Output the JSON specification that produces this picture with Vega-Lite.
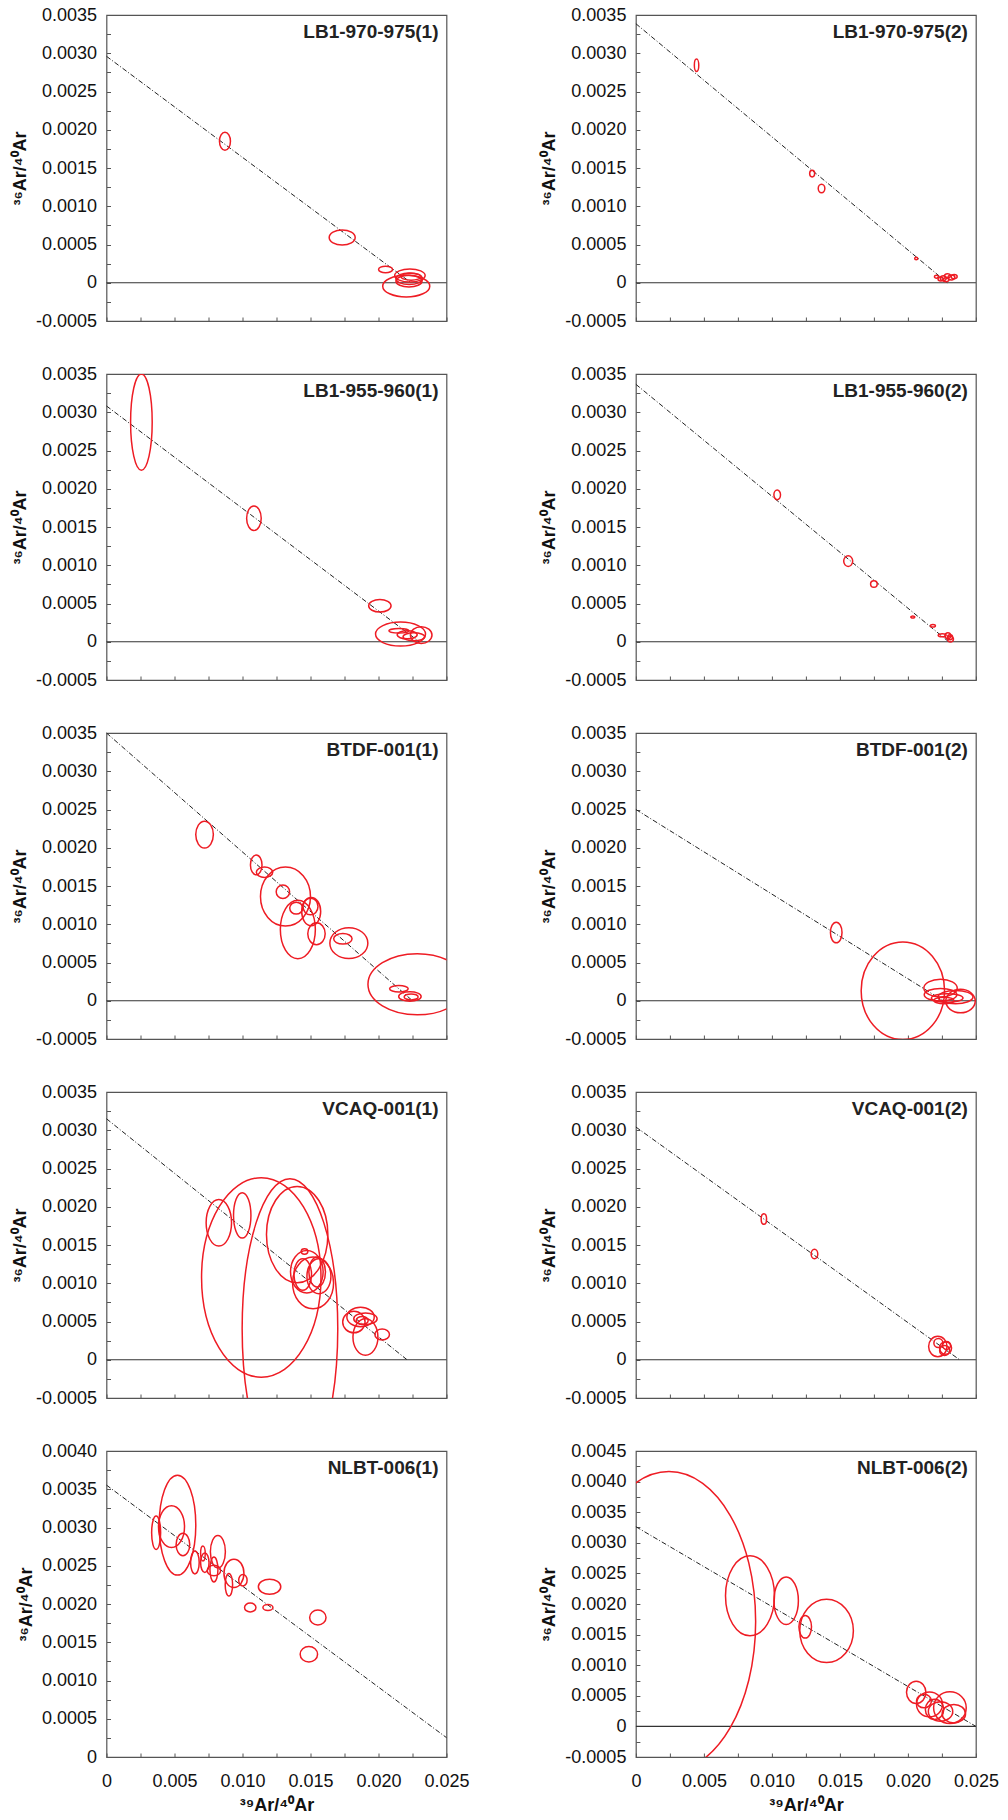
{
  "$schema": "https://vega.github.io/schema/vega-lite/v6.json",
  "background": "white",
  "padding": {"left": 10.5, "top": 5, "right": 5, "bottom": 5},
  "config": {
    "font": "Liberation Sans",
    "view": {"stroke": "#555555", "strokeWidth": 1.2},
    "axis": {"domain": false, "grid": false, "tickColor": "#555555", "tickSize": -4, "tickWidth": 1, "labelFont": "Liberation Sans", "labelFontSize": 18, "labelColor": "#111111", "titleFont": "Liberation Sans", "titleFontSize": 18, "titleFontWeight": "bold", "titleColor": "#111111", "labelOverlap": false, "labelFlush": false},
    "axisY": {"labelPadding": 14, "titlePadding": 6},
    "axisX": {"labelPadding": 19, "titlePadding": 6},
    "title": {"font": "Liberation Sans", "fontSize": 19, "fontWeight": "bold", "color": "#222222", "anchor": "end", "orient": "top", "frame": "group", "offset": -35.5, "baseline": "alphabetic", "dx": -8}
  },
  "datasets": {
    "zero": [{"x": 0, "x2": 0.025, "y": 0}],
    "lines": [
      {"p": "P1", "x": 0, "y": 0.00296}, {"p": "P1", "x": 0.0224, "y": 0},
      {"p": "P2", "x": 0, "y": 0.003386}, {"p": "P2", "x": 0.0229, "y": 0},
      {"p": "P3", "x": 0, "y": 0.003082}, {"p": "P3", "x": 0.0230, "y": 0},
      {"p": "P4", "x": 0, "y": 0.003365}, {"p": "P4", "x": 0.0230, "y": 0},
      {"p": "P5", "x": 0, "y": 0.0035}, {"p": "P5", "x": 0.0225, "y": 0},
      {"p": "P6", "x": 0, "y": 0.0025}, {"p": "P6", "x": 0.0226, "y": 0},
      {"p": "P7", "x": 0, "y": 0.00315}, {"p": "P7", "x": 0.0221, "y": 0},
      {"p": "P8", "x": 0, "y": 0.003042}, {"p": "P8", "x": 0.0238, "y": 0},
      {"p": "P9", "x": 0, "y": 0.003554}, {"p": "P9", "x": 0.025, "y": 0.000253},
      {"p": "P10", "x": 0, "y": 0.003263}, {"p": "P10", "x": 0.025, "y": 0}
    ],
    "ell": [
      {"p": "P1", "id": "a1", "x": 0.00871, "y": 0.00185, "sx": 0.000404, "sy": 0.000117},
      {"p": "P1", "id": "a2", "x": 0.01733, "y": 0.000592, "sx": 0.000956, "sy": 0.0000979},
      {"p": "P1", "id": "a3", "x": 0.02052, "y": 0.000174, "sx": 0.000515, "sy": 0.0000431},
      {"p": "P1", "id": "a4", "x": 0.02231, "y": 0.000095, "sx": 0.00112, "sy": 0.0000848},
      {"p": "P1", "id": "a5", "x": 0.02226, "y": 0.000052, "sx": 0.000978, "sy": 0.0000757},
      {"p": "P1", "id": "a6", "x": 0.02224, "y": 0.000021, "sx": 0.000956, "sy": 0.0000757},
      {"p": "P1", "id": "a7", "x": 0.02204, "y": -0.0000444, "sx": 0.00173, "sy": 0.00014},
      {"p": "P1", "id": "a8", "x": 0.0224, "y": 0.00008, "sx": 0.000735, "sy": 0.0000457},
      {"p": "P2", "id": "b1", "x": 0.00446, "y": 0.002842, "sx": 0.000162, "sy": 0.0000809},
      {"p": "P2", "id": "b2", "x": 0.01296, "y": 0.001427, "sx": 0.000184, "sy": 0.0000431},
      {"p": "P2", "id": "b3", "x": 0.01365, "y": 0.001232, "sx": 0.000243, "sy": 0.0000548},
      {"p": "P2", "id": "b4", "x": 0.02061, "y": 0.000317, "sx": 0.00011, "sy": 0.000017},
      {"p": "P2", "id": "b5", "x": 0.0221, "y": 0.00008, "sx": 0.000147, "sy": 0.0000196},
      {"p": "P2", "id": "b6", "x": 0.0226, "y": 0.00006, "sx": 0.000221, "sy": 0.0000326},
      {"p": "P2", "id": "b7", "x": 0.0229, "y": 0.00009, "sx": 0.000221, "sy": 0.0000261},
      {"p": "P2", "id": "b8", "x": 0.0232, "y": 0.00007, "sx": 0.000257, "sy": 0.0000326},
      {"p": "P2", "id": "b9", "x": 0.0234, "y": 0.00008, "sx": 0.000221, "sy": 0.0000261},
      {"p": "P2", "id": "b10", "x": 0.0228, "y": 0.00004, "sx": 0.000221, "sy": 0.0000261},
      {"p": "P2", "id": "b11", "x": 0.0224, "y": 0.00005, "sx": 0.000184, "sy": 0.0000261},
      {"p": "P3", "id": "c1", "x": 0.002566, "y": 0.002872, "sx": 0.000794, "sy": 0.000629},
      {"p": "P3", "id": "c2", "x": 0.01084, "y": 0.001615, "sx": 0.000537, "sy": 0.000161},
      {"p": "P3", "id": "c3", "x": 0.0201, "y": 0.00047, "sx": 0.000824, "sy": 0.0000822},
      {"p": "P3", "id": "c4", "x": 0.02162, "y": 0.0001, "sx": 0.001838, "sy": 0.000157},
      {"p": "P3", "id": "c5", "x": 0.02314, "y": 0.000087, "sx": 0.000794, "sy": 0.000108},
      {"p": "P3", "id": "c6", "x": 0.0215, "y": 0.000143, "sx": 0.000735, "sy": 0.00003},
      {"p": "P3", "id": "c7", "x": 0.02211, "y": 0.00009, "sx": 0.000735, "sy": 0.0000522},
      {"p": "P3", "id": "c8", "x": 0.0226, "y": 0.000065, "sx": 0.000794, "sy": 0.0000522},
      {"p": "P4", "id": "d1", "x": 0.01039, "y": 0.00192, "sx": 0.000243, "sy": 0.0000627},
      {"p": "P4", "id": "d2", "x": 0.01561, "y": 0.001054, "sx": 0.000331, "sy": 0.0000692},
      {"p": "P4", "id": "d3", "x": 0.0175, "y": 0.000754, "sx": 0.000243, "sy": 0.0000431},
      {"p": "P4", "id": "d4", "x": 0.02036, "y": 0.000323, "sx": 0.000147, "sy": 0.0000131},
      {"p": "P4", "id": "d5", "x": 0.02184, "y": 0.000209, "sx": 0.000184, "sy": 0.000017},
      {"p": "P4", "id": "d6", "x": 0.02252, "y": 0.0000836, "sx": 0.000294, "sy": 0.0000196},
      {"p": "P4", "id": "d7", "x": 0.02294, "y": 0.0000784, "sx": 0.000221, "sy": 0.0000392},
      {"p": "P4", "id": "d8", "x": 0.02313, "y": 0.0000353, "sx": 0.000221, "sy": 0.0000392},
      {"p": "P4", "id": "d9", "x": 0.0231, "y": 0.00006, "sx": 0.000184, "sy": 0.0000326},
      {"p": "P5", "id": "e1", "x": 0.00721, "y": 0.002172, "sx": 0.000647, "sy": 0.000176},
      {"p": "P5", "id": "e2", "x": 0.01101, "y": 0.001776, "sx": 0.000426, "sy": 0.000131},
      {"p": "P5", "id": "e3", "x": 0.01162, "y": 0.00168, "sx": 0.000603, "sy": 0.0000679},
      {"p": "P5", "id": "e4", "x": 0.01316, "y": 0.001362, "sx": 0.001838, "sy": 0.000385},
      {"p": "P5", "id": "e5", "x": 0.01297, "y": 0.001424, "sx": 0.000493, "sy": 0.0000875},
      {"p": "P5", "id": "e6", "x": 0.01395, "y": 0.001211, "sx": 0.000478, "sy": 0.0000783},
      {"p": "P5", "id": "e7", "x": 0.01505, "y": 0.001166, "sx": 0.000699, "sy": 0.000185},
      {"p": "P5", "id": "e8", "x": 0.0150, "y": 0.001232, "sx": 0.000551, "sy": 0.000108},
      {"p": "P5", "id": "e9", "x": 0.01407, "y": 0.000931, "sx": 0.001287, "sy": 0.000381},
      {"p": "P5", "id": "e10", "x": 0.01544, "y": 0.000875, "sx": 0.00064, "sy": 0.000144},
      {"p": "P5", "id": "e11", "x": 0.01782, "y": 0.000753, "sx": 0.001397, "sy": 0.0002},
      {"p": "P5", "id": "e12", "x": 0.01738, "y": 0.00081, "sx": 0.000676, "sy": 0.0000692},
      {"p": "P5", "id": "e13", "x": 0.02285, "y": 0.000215, "sx": 0.003625, "sy": 0.000398},
      {"p": "P5", "id": "e14", "x": 0.0215, "y": 0.000157, "sx": 0.000684, "sy": 0.0000431},
      {"p": "P5", "id": "e15", "x": 0.02231, "y": 0.0000565, "sx": 0.000824, "sy": 0.0000614},
      {"p": "P5", "id": "e16", "x": 0.0224, "y": 0.00005, "sx": 0.000515, "sy": 0.0000392},
      {"p": "P6", "id": "f1", "x": 0.01473, "y": 0.000892, "sx": 0.000426, "sy": 0.000134},
      {"p": "P6", "id": "f2", "x": 0.01963, "y": 0.00013, "sx": 0.003066, "sy": 0.000636},
      {"p": "P6", "id": "f3", "x": 0.0224, "y": 0.000166, "sx": 0.001228, "sy": 0.000115},
      {"p": "P6", "id": "f4", "x": 0.02387, "y": -0.000004, "sx": 0.001081, "sy": 0.000153},
      {"p": "P6", "id": "f5", "x": 0.0224, "y": 0.000078, "sx": 0.001199, "sy": 0.0000822},
      {"p": "P6", "id": "f6", "x": 0.02289, "y": 0.000035, "sx": 0.001162, "sy": 0.0000548},
      {"p": "P6", "id": "f7", "x": 0.0235, "y": 0.000048, "sx": 0.001287, "sy": 0.0000875},
      {"p": "P6", "id": "f8", "x": 0.02265, "y": 0.000004, "sx": 0.000735, "sy": 0.0000431},
      {"p": "P7", "id": "g1", "x": 0.01138, "y": 0.001076, "sx": 0.00439, "sy": 0.001303},
      {"p": "P7", "id": "g2", "x": 0.01349, "y": 0.000405, "sx": 0.003515, "sy": 0.001961},
      {"p": "P7", "id": "g3", "x": 0.01402, "y": 0.001636, "sx": 0.002257, "sy": 0.00063},
      {"p": "P7", "id": "g4", "x": 0.00826, "y": 0.00179, "sx": 0.000934, "sy": 0.000305},
      {"p": "P7", "id": "g5", "x": 0.00998, "y": 0.001887, "sx": 0.00064, "sy": 0.000297},
      {"p": "P7", "id": "g6", "x": 0.01456, "y": 0.001416, "sx": 0.000243, "sy": 0.0000353},
      {"p": "P7", "id": "g7", "x": 0.01519, "y": 0.001004, "sx": 0.001507, "sy": 0.000337},
      {"p": "P7", "id": "g8", "x": 0.01473, "y": 0.00115, "sx": 0.001199, "sy": 0.000277},
      {"p": "P7", "id": "g9", "x": 0.01443, "y": 0.001114, "sx": 0.000647, "sy": 0.000207},
      {"p": "P7", "id": "g10", "x": 0.01562, "y": 0.001092, "sx": 0.000882, "sy": 0.000229},
      {"p": "P7", "id": "g11", "x": 0.01549, "y": 0.001146, "sx": 0.00061, "sy": 0.000196},
      {"p": "P7", "id": "g12", "x": 0.01868, "y": 0.000558, "sx": 0.001007, "sy": 0.000127},
      {"p": "P7", "id": "g13", "x": 0.01819, "y": 0.000493, "sx": 0.000824, "sy": 0.000141},
      {"p": "P7", "id": "g14", "x": 0.01904, "y": 0.000536, "sx": 0.00086, "sy": 0.0000758},
      {"p": "P7", "id": "g15", "x": 0.01904, "y": 0.000297, "sx": 0.000919, "sy": 0.000239},
      {"p": "P7", "id": "g16", "x": 0.0188, "y": 0.000514, "sx": 0.000441, "sy": 0.0000523},
      {"p": "P7", "id": "g17", "x": 0.02027, "y": 0.000331, "sx": 0.000537, "sy": 0.0000719},
      {"p": "P8", "id": "h1", "x": 0.00941, "y": 0.001839, "sx": 0.000199, "sy": 0.0000693},
      {"p": "P8", "id": "h2", "x": 0.01313, "y": 0.001382, "sx": 0.000243, "sy": 0.0000614},
      {"p": "P8", "id": "h3", "x": 0.0222, "y": 0.000174, "sx": 0.000676, "sy": 0.000133},
      {"p": "P8", "id": "h4", "x": 0.02224, "y": 0.000218, "sx": 0.000331, "sy": 0.0000588},
      {"p": "P8", "id": "h5", "x": 0.02277, "y": 0.000153, "sx": 0.000441, "sy": 0.0000824},
      {"p": "P8", "id": "h6", "x": 0.0227, "y": 0.000122, "sx": 0.000368, "sy": 0.0000654},
      {"p": "P8", "id": "h7", "x": 0.02284, "y": 0.000187, "sx": 0.000294, "sy": 0.0000523},
      {"p": "P9", "id": "i1", "x": 0.00522, "y": 0.003031, "sx": 0.001346, "sy": 0.000654},
      {"p": "P9", "id": "i2", "x": 0.00478, "y": 0.003011, "sx": 0.000956, "sy": 0.000272},
      {"p": "P9", "id": "i3", "x": 0.00365, "y": 0.002931, "sx": 0.000331, "sy": 0.000219},
      {"p": "P9", "id": "i4", "x": 0.00562, "y": 0.002778, "sx": 0.0005, "sy": 0.000147},
      {"p": "P9", "id": "i5", "x": 0.0065, "y": 0.002543, "sx": 0.000316, "sy": 0.00015},
      {"p": "P9", "id": "i6", "x": 0.00709, "y": 0.00266, "sx": 0.000169, "sy": 0.0000981},
      {"p": "P9", "id": "i7", "x": 0.00723, "y": 0.002539, "sx": 0.000309, "sy": 0.000127},
      {"p": "P9", "id": "i8", "x": 0.00819, "y": 0.002683, "sx": 0.000551, "sy": 0.000213},
      {"p": "P9", "id": "i9", "x": 0.0079, "y": 0.002451, "sx": 0.000294, "sy": 0.000164},
      {"p": "P9", "id": "i10", "x": 0.0079, "y": 0.002438, "sx": 0.000493, "sy": 0.0000694},
      {"p": "P9", "id": "i11", "x": 0.00937, "y": 0.002401, "sx": 0.000735, "sy": 0.000186},
      {"p": "P9", "id": "i12", "x": 0.009, "y": 0.002251, "sx": 0.000272, "sy": 0.000148},
      {"p": "P9", "id": "i13", "x": 0.01003, "y": 0.002311, "sx": 0.000309, "sy": 0.0000746},
      {"p": "P9", "id": "i14", "x": 0.01199, "y": 0.002225, "sx": 0.000824, "sy": 0.0000981},
      {"p": "P9", "id": "i15", "x": 0.01057, "y": 0.001954, "sx": 0.000419, "sy": 0.0000589},
      {"p": "P9", "id": "i16", "x": 0.01187, "y": 0.001954, "sx": 0.000368, "sy": 0.0000393},
      {"p": "P9", "id": "i17", "x": 0.01554, "y": 0.001823, "sx": 0.000603, "sy": 0.0000981},
      {"p": "P9", "id": "i18", "x": 0.01488, "y": 0.001343, "sx": 0.00064, "sy": 0.000102},
      {"p": "P10", "id": "j1", "x": 0.00243, "y": 0.001713, "sx": 0.006375, "sy": 0.002459},
      {"p": "P10", "id": "j2", "x": 0.00839, "y": 0.002134, "sx": 0.001801, "sy": 0.000655},
      {"p": "P10", "id": "j3", "x": 0.01105, "y": 0.002054, "sx": 0.000897, "sy": 0.000389},
      {"p": "P10", "id": "j4", "x": 0.01402, "y": 0.001561, "sx": 0.001971, "sy": 0.000519},
      {"p": "P10", "id": "j5", "x": 0.01245, "y": 0.001627, "sx": 0.000463, "sy": 0.000185},
      {"p": "P10", "id": "j6", "x": 0.02061, "y": 0.000557, "sx": 0.000713, "sy": 0.000183},
      {"p": "P10", "id": "j7", "x": 0.02159, "y": 0.00036, "sx": 0.000956, "sy": 0.000205},
      {"p": "P10", "id": "j8", "x": 0.02309, "y": 0.000306, "sx": 0.001199, "sy": 0.000259},
      {"p": "P10", "id": "j9", "x": 0.02196, "y": 0.000278, "sx": 0.000676, "sy": 0.000164},
      {"p": "P10", "id": "j10", "x": 0.0224, "y": 0.000245, "sx": 0.000897, "sy": 0.000159},
      {"p": "P10", "id": "j11", "x": 0.02338, "y": 0.000208, "sx": 0.00086, "sy": 0.000151},
      {"p": "P10", "id": "j12", "x": 0.02118, "y": 0.000415, "sx": 0.000551, "sy": 0.000111}
    ]
  },
  "columns": 2,
  "spacing": {"row": 53, "column": 189.4},
  "bounds": "flush",
  "resolve": {"scale": {"shape": "independent", "x": "independent", "y": "independent"}},
  "concat": [
    {
      "title": {"text": "LB1-970-975(1)"},
      "width": 340, "height": 306,
      "encoding": {
        "x": {"field": "x", "type": "quantitative", "scale": {"domain": [0, 0.025], "nice": false, "zero": false}, "axis": {"values": [0, 0.0025, 0.005, 0.0075, 0.01, 0.0125, 0.015, 0.0175, 0.02, 0.0225, 0.025], "labels": false, "title": null}},
        "y": {"field": "y", "type": "quantitative", "scale": {"domain": [-0.0005, 0.0035], "nice": false, "zero": false}, "axis": {"values": [-0.0005, -0.00025, 0, 0.00025, 0.0005, 0.00075, 0.001, 0.00125, 0.0015, 0.00175, 0.002, 0.00225, 0.0025, 0.00275, 0.003, 0.00325, 0.0035], "labelExpr": "round(datum.value*4000)%2==0 ? (datum.value==0 ? '0' : (datum.value<0 ? '-' : '') + format(abs(datum.value), '.4f')) : ''", "title": "³⁶Ar/⁴⁰Ar"}}
      },
      "layer": [
        {"data": {"name": "lines"}, "transform": [{"filter": "datum.p=='P1'"}], "mark": {"type": "line", "stroke": "#222222", "strokeWidth": 1, "strokeDash": [5, 2, 1, 2]}},
        {"data": {"name": "zero"}, "mark": {"type": "rule", "stroke": "#333333", "strokeWidth": 1.2}, "encoding": {"x2": {"field": "x2"}}},
        {"data": {"name": "ell"}, "transform": [{"filter": "datum.p=='P1'"}], "mark": {"type": "point", "filled": false, "stroke": "#ee1c24", "strokeWidth": 1.5, "opacity": 1, "clip": true},
         "encoding": {
           "size": {"field": "sx", "type": "quantitative", "scale": {"type": "pow", "exponent": 2, "domain": [0, 0.01], "range": [0, 73984]}, "legend": null},
           "shape": {"field": "id", "type": "nominal", "legend": null, "scale": {"domain": ["a1","a2","a3","a4","a5","a6","a7","a8"], "range": ["M-1,0A1,1.64 0 1,0 1,0A1,1.64 0 1,0 -1,0Z","M-1,0A1,0.58 0 1,0 1,0A1,0.58 0 1,0 -1,0Z","M-1,0A1,0.47 0 1,0 1,0A1,0.47 0 1,0 -1,0Z","M-1,0A1,0.43 0 1,0 1,0A1,0.43 0 1,0 -1,0Z","M-1,0A1,0.44 0 1,0 1,0A1,0.44 0 1,0 -1,0Z","M-1,0A1,0.45 0 1,0 1,0A1,0.45 0 1,0 -1,0Z","M-1,0A1,0.46 0 1,0 1,0A1,0.46 0 1,0 -1,0Z","M-1,0A1,0.35 0 1,0 1,0A1,0.35 0 1,0 -1,0Z"]}}
         }}
      ]
    },
    {
      "title": {"text": "LB1-970-975(2)"},
      "width": 340, "height": 306,
      "encoding": {
        "x": {"field": "x", "type": "quantitative", "scale": {"domain": [0, 0.025], "nice": false, "zero": false}, "axis": {"values": [0, 0.0025, 0.005, 0.0075, 0.01, 0.0125, 0.015, 0.0175, 0.02, 0.0225, 0.025], "labels": false, "title": null}},
        "y": {"field": "y", "type": "quantitative", "scale": {"domain": [-0.0005, 0.0035], "nice": false, "zero": false}, "axis": {"values": [-0.0005, -0.00025, 0, 0.00025, 0.0005, 0.00075, 0.001, 0.00125, 0.0015, 0.00175, 0.002, 0.00225, 0.0025, 0.00275, 0.003, 0.00325, 0.0035], "labelExpr": "round(datum.value*4000)%2==0 ? (datum.value==0 ? '0' : (datum.value<0 ? '-' : '') + format(abs(datum.value), '.4f')) : ''", "title": "³⁶Ar/⁴⁰Ar"}}
      },
      "layer": [
        {"data": {"name": "lines"}, "transform": [{"filter": "datum.p=='P2'"}], "mark": {"type": "line", "stroke": "#222222", "strokeWidth": 1, "strokeDash": [5, 2, 1, 2]}},
        {"data": {"name": "zero"}, "mark": {"type": "rule", "stroke": "#333333", "strokeWidth": 1.2}, "encoding": {"x2": {"field": "x2"}}},
        {"data": {"name": "ell"}, "transform": [{"filter": "datum.p=='P2'"}], "mark": {"type": "point", "filled": false, "stroke": "#ee1c24", "strokeWidth": 1.5, "opacity": 1, "clip": true},
         "encoding": {
           "size": {"field": "sx", "type": "quantitative", "scale": {"type": "pow", "exponent": 2, "domain": [0, 0.01], "range": [0, 73984]}, "legend": null},
           "shape": {"field": "id", "type": "nominal", "legend": null, "scale": {"domain": ["b1","b2","b3","b4","b5","b6","b7","b8","b9","b10","b11"], "range": ["M-1,0A1,2.82 0 1,0 1,0A1,2.82 0 1,0 -1,0Z","M-1,0A1,1.32 0 1,0 1,0A1,1.32 0 1,0 -1,0Z","M-1,0A1,1.27 0 1,0 1,0A1,1.27 0 1,0 -1,0Z","M-1,0A1,0.87 0 1,0 1,0A1,0.87 0 1,0 -1,0Z","M-1,0A1,0.75 0 1,0 1,0A1,0.75 0 1,0 -1,0Z","M-1,0A1,0.83 0 1,0 1,0A1,0.83 0 1,0 -1,0Z","M-1,0A1,0.67 0 1,0 1,0A1,0.67 0 1,0 -1,0Z","M-1,0A1,0.71 0 1,0 1,0A1,0.71 0 1,0 -1,0Z","M-1,0A1,0.67 0 1,0 1,0A1,0.67 0 1,0 -1,0Z","M-1,0A1,0.67 0 1,0 1,0A1,0.67 0 1,0 -1,0Z","M-1,0A1,0.8 0 1,0 1,0A1,0.8 0 1,0 -1,0Z"]}}
         }}
      ]
    },
    {
      "title": {"text": "LB1-955-960(1)"},
      "width": 340, "height": 306,
      "encoding": {
        "x": {"field": "x", "type": "quantitative", "scale": {"domain": [0, 0.025], "nice": false, "zero": false}, "axis": {"values": [0, 0.0025, 0.005, 0.0075, 0.01, 0.0125, 0.015, 0.0175, 0.02, 0.0225, 0.025], "labels": false, "title": null}},
        "y": {"field": "y", "type": "quantitative", "scale": {"domain": [-0.0005, 0.0035], "nice": false, "zero": false}, "axis": {"values": [-0.0005, -0.00025, 0, 0.00025, 0.0005, 0.00075, 0.001, 0.00125, 0.0015, 0.00175, 0.002, 0.00225, 0.0025, 0.00275, 0.003, 0.00325, 0.0035], "labelExpr": "round(datum.value*4000)%2==0 ? (datum.value==0 ? '0' : (datum.value<0 ? '-' : '') + format(abs(datum.value), '.4f')) : ''", "title": "³⁶Ar/⁴⁰Ar"}}
      },
      "layer": [
        {"data": {"name": "lines"}, "transform": [{"filter": "datum.p=='P3'"}], "mark": {"type": "line", "stroke": "#222222", "strokeWidth": 1, "strokeDash": [5, 2, 1, 2]}},
        {"data": {"name": "zero"}, "mark": {"type": "rule", "stroke": "#333333", "strokeWidth": 1.2}, "encoding": {"x2": {"field": "x2"}}},
        {"data": {"name": "ell"}, "transform": [{"filter": "datum.p=='P3'"}], "mark": {"type": "point", "filled": false, "stroke": "#ee1c24", "strokeWidth": 1.5, "opacity": 1, "clip": true},
         "encoding": {
           "size": {"field": "sx", "type": "quantitative", "scale": {"type": "pow", "exponent": 2, "domain": [0, 0.01], "range": [0, 73984]}, "legend": null},
           "shape": {"field": "id", "type": "nominal", "legend": null, "scale": {"domain": ["c1","c2","c3","c4","c5","c6","c7","c8"], "range": ["M-1,0A1,4.46 0 1,0 1,0A1,4.46 0 1,0 -1,0Z","M-1,0A1,1.68 0 1,0 1,0A1,1.68 0 1,0 -1,0Z","M-1,0A1,0.56 0 1,0 1,0A1,0.56 0 1,0 -1,0Z","M-1,0A1,0.48 0 1,0 1,0A1,0.48 0 1,0 -1,0Z","M-1,0A1,0.77 0 1,0 1,0A1,0.77 0 1,0 -1,0Z","M-1,0A1,0.23 0 1,0 1,0A1,0.23 0 1,0 -1,0Z","M-1,0A1,0.4 0 1,0 1,0A1,0.4 0 1,0 -1,0Z","M-1,0A1,0.37 0 1,0 1,0A1,0.37 0 1,0 -1,0Z"]}}
         }}
      ]
    },
    {
      "title": {"text": "LB1-955-960(2)"},
      "width": 340, "height": 306,
      "encoding": {
        "x": {"field": "x", "type": "quantitative", "scale": {"domain": [0, 0.025], "nice": false, "zero": false}, "axis": {"values": [0, 0.0025, 0.005, 0.0075, 0.01, 0.0125, 0.015, 0.0175, 0.02, 0.0225, 0.025], "labels": false, "title": null}},
        "y": {"field": "y", "type": "quantitative", "scale": {"domain": [-0.0005, 0.0035], "nice": false, "zero": false}, "axis": {"values": [-0.0005, -0.00025, 0, 0.00025, 0.0005, 0.00075, 0.001, 0.00125, 0.0015, 0.00175, 0.002, 0.00225, 0.0025, 0.00275, 0.003, 0.00325, 0.0035], "labelExpr": "round(datum.value*4000)%2==0 ? (datum.value==0 ? '0' : (datum.value<0 ? '-' : '') + format(abs(datum.value), '.4f')) : ''", "title": "³⁶Ar/⁴⁰Ar"}}
      },
      "layer": [
        {"data": {"name": "lines"}, "transform": [{"filter": "datum.p=='P4'"}], "mark": {"type": "line", "stroke": "#222222", "strokeWidth": 1, "strokeDash": [5, 2, 1, 2]}},
        {"data": {"name": "zero"}, "mark": {"type": "rule", "stroke": "#333333", "strokeWidth": 1.2}, "encoding": {"x2": {"field": "x2"}}},
        {"data": {"name": "ell"}, "transform": [{"filter": "datum.p=='P4'"}], "mark": {"type": "point", "filled": false, "stroke": "#ee1c24", "strokeWidth": 1.5, "opacity": 1, "clip": true},
         "encoding": {
           "size": {"field": "sx", "type": "quantitative", "scale": {"type": "pow", "exponent": 2, "domain": [0, 0.01], "range": [0, 73984]}, "legend": null},
           "shape": {"field": "id", "type": "nominal", "legend": null, "scale": {"domain": ["d1","d2","d3","d4","d5","d6","d7","d8","d9"], "range": ["M-1,0A1,1.45 0 1,0 1,0A1,1.45 0 1,0 -1,0Z","M-1,0A1,1.18 0 1,0 1,0A1,1.18 0 1,0 -1,0Z","M-1,0A1,1 0 1,0 1,0A1,1 0 1,0 -1,0Z","M-1,0A1,0.5 0 1,0 1,0A1,0.5 0 1,0 -1,0Z","M-1,0A1,0.52 0 1,0 1,0A1,0.52 0 1,0 -1,0Z","M-1,0A1,0.38 0 1,0 1,0A1,0.38 0 1,0 -1,0Z","M-1,0A1,1 0 1,0 1,0A1,1 0 1,0 -1,0Z","M-1,0A1,1 0 1,0 1,0A1,1 0 1,0 -1,0Z","M-1,0A1,1 0 1,0 1,0A1,1 0 1,0 -1,0Z"]}}
         }}
      ]
    },
    {
      "title": {"text": "BTDF-001(1)"},
      "width": 340, "height": 306,
      "encoding": {
        "x": {"field": "x", "type": "quantitative", "scale": {"domain": [0, 0.025], "nice": false, "zero": false}, "axis": {"values": [0, 0.0025, 0.005, 0.0075, 0.01, 0.0125, 0.015, 0.0175, 0.02, 0.0225, 0.025], "labels": false, "title": null}},
        "y": {"field": "y", "type": "quantitative", "scale": {"domain": [-0.0005, 0.0035], "nice": false, "zero": false}, "axis": {"values": [-0.0005, -0.00025, 0, 0.00025, 0.0005, 0.00075, 0.001, 0.00125, 0.0015, 0.00175, 0.002, 0.00225, 0.0025, 0.00275, 0.003, 0.00325, 0.0035], "labelExpr": "round(datum.value*4000)%2==0 ? (datum.value==0 ? '0' : (datum.value<0 ? '-' : '') + format(abs(datum.value), '.4f')) : ''", "title": "³⁶Ar/⁴⁰Ar"}}
      },
      "layer": [
        {"data": {"name": "lines"}, "transform": [{"filter": "datum.p=='P5'"}], "mark": {"type": "line", "stroke": "#222222", "strokeWidth": 1, "strokeDash": [5, 2, 1, 2]}},
        {"data": {"name": "zero"}, "mark": {"type": "rule", "stroke": "#333333", "strokeWidth": 1.2}, "encoding": {"x2": {"field": "x2"}}},
        {"data": {"name": "ell"}, "transform": [{"filter": "datum.p=='P5'"}], "mark": {"type": "point", "filled": false, "stroke": "#ee1c24", "strokeWidth": 1.5, "opacity": 1, "clip": true},
         "encoding": {
           "size": {"field": "sx", "type": "quantitative", "scale": {"type": "pow", "exponent": 2, "domain": [0, 0.01], "range": [0, 73984]}, "legend": null},
           "shape": {"field": "id", "type": "nominal", "legend": null, "scale": {"domain": ["e1","e2","e3","e4","e5","e6","e7","e8","e9","e10","e11","e12","e13","e14","e15","e16"], "range": ["M-1,0A1,1.53 0 1,0 1,0A1,1.53 0 1,0 -1,0Z","M-1,0A1,1.72 0 1,0 1,0A1,1.72 0 1,0 -1,0Z","M-1,0A1,0.63 0 1,0 1,0A1,0.63 0 1,0 -1,0Z","M-1,0A1,1.18 0 1,0 1,0A1,1.18 0 1,0 -1,0Z","M-1,0A1,1 0 1,0 1,0A1,1 0 1,0 -1,0Z","M-1,0A1,0.92 0 1,0 1,0A1,0.92 0 1,0 -1,0Z","M-1,0A1,1.49 0 1,0 1,0A1,1.49 0 1,0 -1,0Z","M-1,0A1,1.11 0 1,0 1,0A1,1.11 0 1,0 -1,0Z","M-1,0A1,1.67 0 1,0 1,0A1,1.67 0 1,0 -1,0Z","M-1,0A1,1.26 0 1,0 1,0A1,1.26 0 1,0 -1,0Z","M-1,0A1,0.81 0 1,0 1,0A1,0.81 0 1,0 -1,0Z","M-1,0A1,0.58 0 1,0 1,0A1,0.58 0 1,0 -1,0Z","M-1,0A1,0.62 0 1,0 1,0A1,0.62 0 1,0 -1,0Z","M-1,0A1,0.35 0 1,0 1,0A1,0.35 0 1,0 -1,0Z","M-1,0A1,0.42 0 1,0 1,0A1,0.42 0 1,0 -1,0Z","M-1,0A1,0.43 0 1,0 1,0A1,0.43 0 1,0 -1,0Z"]}}
         }}
      ]
    },
    {
      "title": {"text": "BTDF-001(2)"},
      "width": 340, "height": 306,
      "encoding": {
        "x": {"field": "x", "type": "quantitative", "scale": {"domain": [0, 0.025], "nice": false, "zero": false}, "axis": {"values": [0, 0.0025, 0.005, 0.0075, 0.01, 0.0125, 0.015, 0.0175, 0.02, 0.0225, 0.025], "labels": false, "title": null}},
        "y": {"field": "y", "type": "quantitative", "scale": {"domain": [-0.0005, 0.0035], "nice": false, "zero": false}, "axis": {"values": [-0.0005, -0.00025, 0, 0.00025, 0.0005, 0.00075, 0.001, 0.00125, 0.0015, 0.00175, 0.002, 0.00225, 0.0025, 0.00275, 0.003, 0.00325, 0.0035], "labelExpr": "round(datum.value*4000)%2==0 ? (datum.value==0 ? '0' : (datum.value<0 ? '-' : '') + format(abs(datum.value), '.4f')) : ''", "title": "³⁶Ar/⁴⁰Ar"}}
      },
      "layer": [
        {"data": {"name": "lines"}, "transform": [{"filter": "datum.p=='P6'"}], "mark": {"type": "line", "stroke": "#222222", "strokeWidth": 1, "strokeDash": [5, 2, 1, 2]}},
        {"data": {"name": "zero"}, "mark": {"type": "rule", "stroke": "#333333", "strokeWidth": 1.2}, "encoding": {"x2": {"field": "x2"}}},
        {"data": {"name": "ell"}, "transform": [{"filter": "datum.p=='P6'"}], "mark": {"type": "point", "filled": false, "stroke": "#ee1c24", "strokeWidth": 1.5, "opacity": 1, "clip": true},
         "encoding": {
           "size": {"field": "sx", "type": "quantitative", "scale": {"type": "pow", "exponent": 2, "domain": [0, 0.01], "range": [0, 73984]}, "legend": null},
           "shape": {"field": "id", "type": "nominal", "legend": null, "scale": {"domain": ["f1","f2","f3","f4","f5","f6","f7","f8"], "range": ["M-1,0A1,1.78 0 1,0 1,0A1,1.78 0 1,0 -1,0Z","M-1,0A1,1.17 0 1,0 1,0A1,1.17 0 1,0 -1,0Z","M-1,0A1,0.53 0 1,0 1,0A1,0.53 0 1,0 -1,0Z","M-1,0A1,0.8 0 1,0 1,0A1,0.8 0 1,0 -1,0Z","M-1,0A1,0.39 0 1,0 1,0A1,0.39 0 1,0 -1,0Z","M-1,0A1,0.27 0 1,0 1,0A1,0.27 0 1,0 -1,0Z","M-1,0A1,0.38 0 1,0 1,0A1,0.38 0 1,0 -1,0Z","M-1,0A1,0.33 0 1,0 1,0A1,0.33 0 1,0 -1,0Z"]}}
         }}
      ]
    },
    {
      "title": {"text": "VCAQ-001(1)"},
      "width": 340, "height": 306,
      "encoding": {
        "x": {"field": "x", "type": "quantitative", "scale": {"domain": [0, 0.025], "nice": false, "zero": false}, "axis": {"values": [0, 0.0025, 0.005, 0.0075, 0.01, 0.0125, 0.015, 0.0175, 0.02, 0.0225, 0.025], "labels": false, "title": null}},
        "y": {"field": "y", "type": "quantitative", "scale": {"domain": [-0.0005, 0.0035], "nice": false, "zero": false}, "axis": {"values": [-0.0005, -0.00025, 0, 0.00025, 0.0005, 0.00075, 0.001, 0.00125, 0.0015, 0.00175, 0.002, 0.00225, 0.0025, 0.00275, 0.003, 0.00325, 0.0035], "labelExpr": "round(datum.value*4000)%2==0 ? (datum.value==0 ? '0' : (datum.value<0 ? '-' : '') + format(abs(datum.value), '.4f')) : ''", "title": "³⁶Ar/⁴⁰Ar"}}
      },
      "layer": [
        {"data": {"name": "lines"}, "transform": [{"filter": "datum.p=='P7'"}], "mark": {"type": "line", "stroke": "#222222", "strokeWidth": 1, "strokeDash": [5, 2, 1, 2]}},
        {"data": {"name": "zero"}, "mark": {"type": "rule", "stroke": "#333333", "strokeWidth": 1.2}, "encoding": {"x2": {"field": "x2"}}},
        {"data": {"name": "ell"}, "transform": [{"filter": "datum.p=='P7'"}], "mark": {"type": "point", "filled": false, "stroke": "#ee1c24", "strokeWidth": 1.5, "opacity": 1, "clip": true},
         "encoding": {
           "size": {"field": "sx", "type": "quantitative", "scale": {"type": "pow", "exponent": 2, "domain": [0, 0.01], "range": [0, 73984]}, "legend": null},
           "shape": {"field": "id", "type": "nominal", "legend": null, "scale": {"domain": ["g1","g2","g3","g4","g5","g6","g7","g8","g9","g10","g11","g12","g13","g14","g15","g16","g17"], "range": ["M-1,0A1,1.67 0 1,0 1,0A1,1.67 0 1,0 -1,0Z","M-1,0A1,3.14 0 1,0 1,0A1,3.14 0 1,0 -1,0Z","M-1,0A1,1.57 0 1,0 1,0A1,1.57 0 1,0 -1,0Z","M-1,0A1,1.83 0 1,0 1,0A1,1.83 0 1,0 -1,0Z","M-1,0A1,2.61 0 1,0 1,0A1,2.61 0 1,0 -1,0Z","M-1,0A1,0.82 0 1,0 1,0A1,0.82 0 1,0 -1,0Z","M-1,0A1,1.26 0 1,0 1,0A1,1.26 0 1,0 -1,0Z","M-1,0A1,1.3 0 1,0 1,0A1,1.3 0 1,0 -1,0Z","M-1,0A1,1.8 0 1,0 1,0A1,1.8 0 1,0 -1,0Z","M-1,0A1,1.46 0 1,0 1,0A1,1.46 0 1,0 -1,0Z","M-1,0A1,1.81 0 1,0 1,0A1,1.81 0 1,0 -1,0Z","M-1,0A1,0.71 0 1,0 1,0A1,0.71 0 1,0 -1,0Z","M-1,0A1,0.96 0 1,0 1,0A1,0.96 0 1,0 -1,0Z","M-1,0A1,0.5 0 1,0 1,0A1,0.5 0 1,0 -1,0Z","M-1,0A1,1.46 0 1,0 1,0A1,1.46 0 1,0 -1,0Z","M-1,0A1,0.67 0 1,0 1,0A1,0.67 0 1,0 -1,0Z","M-1,0A1,0.75 0 1,0 1,0A1,0.75 0 1,0 -1,0Z"]}}
         }}
      ]
    },
    {
      "title": {"text": "VCAQ-001(2)"},
      "width": 340, "height": 306,
      "encoding": {
        "x": {"field": "x", "type": "quantitative", "scale": {"domain": [0, 0.025], "nice": false, "zero": false}, "axis": {"values": [0, 0.0025, 0.005, 0.0075, 0.01, 0.0125, 0.015, 0.0175, 0.02, 0.0225, 0.025], "labels": false, "title": null}},
        "y": {"field": "y", "type": "quantitative", "scale": {"domain": [-0.0005, 0.0035], "nice": false, "zero": false}, "axis": {"values": [-0.0005, -0.00025, 0, 0.00025, 0.0005, 0.00075, 0.001, 0.00125, 0.0015, 0.00175, 0.002, 0.00225, 0.0025, 0.00275, 0.003, 0.00325, 0.0035], "labelExpr": "round(datum.value*4000)%2==0 ? (datum.value==0 ? '0' : (datum.value<0 ? '-' : '') + format(abs(datum.value), '.4f')) : ''", "title": "³⁶Ar/⁴⁰Ar"}}
      },
      "layer": [
        {"data": {"name": "lines"}, "transform": [{"filter": "datum.p=='P8'"}], "mark": {"type": "line", "stroke": "#222222", "strokeWidth": 1, "strokeDash": [5, 2, 1, 2]}},
        {"data": {"name": "zero"}, "mark": {"type": "rule", "stroke": "#333333", "strokeWidth": 1.2}, "encoding": {"x2": {"field": "x2"}}},
        {"data": {"name": "ell"}, "transform": [{"filter": "datum.p=='P8'"}], "mark": {"type": "point", "filled": false, "stroke": "#ee1c24", "strokeWidth": 1.5, "opacity": 1, "clip": true},
         "encoding": {
           "size": {"field": "sx", "type": "quantitative", "scale": {"type": "pow", "exponent": 2, "domain": [0, 0.01], "range": [0, 73984]}, "legend": null},
           "shape": {"field": "id", "type": "nominal", "legend": null, "scale": {"domain": ["h1","h2","h3","h4","h5","h6","h7"], "range": ["M-1,0A1,1.96 0 1,0 1,0A1,1.96 0 1,0 -1,0Z","M-1,0A1,1.42 0 1,0 1,0A1,1.42 0 1,0 -1,0Z","M-1,0A1,1.11 0 1,0 1,0A1,1.11 0 1,0 -1,0Z","M-1,0A1,1 0 1,0 1,0A1,1 0 1,0 -1,0Z","M-1,0A1,1.05 0 1,0 1,0A1,1.05 0 1,0 -1,0Z","M-1,0A1,1 0 1,0 1,0A1,1 0 1,0 -1,0Z","M-1,0A1,1 0 1,0 1,0A1,1 0 1,0 -1,0Z"]}}
         }}
      ]
    },
    {
      "title": {"text": "NLBT-006(1)"},
      "width": 340, "height": 306,
      "encoding": {
        "x": {"field": "x", "type": "quantitative", "scale": {"domain": [0, 0.025], "nice": false, "zero": false}, "axis": {"values": [0, 0.0025, 0.005, 0.0075, 0.01, 0.0125, 0.015, 0.0175, 0.02, 0.0225, 0.025], "labelExpr": "round(datum.value*400)%2==0 ? (datum.value==0 ? '0' : format(datum.value, '.3f')) : ''", "title": "³⁹Ar/⁴⁰Ar"}},
        "y": {"field": "y", "type": "quantitative", "scale": {"domain": [0, 0.004], "nice": false, "zero": false}, "axis": {"values": [0, 0.00025, 0.0005, 0.00075, 0.001, 0.00125, 0.0015, 0.00175, 0.002, 0.00225, 0.0025, 0.00275, 0.003, 0.00325, 0.0035, 0.00375, 0.004], "labelExpr": "round(datum.value*4000)%2==0 ? (datum.value==0 ? '0' : (datum.value<0 ? '-' : '') + format(abs(datum.value), '.4f')) : ''", "title": "³⁶Ar/⁴⁰Ar"}}
      },
      "layer": [
        {"data": {"name": "lines"}, "transform": [{"filter": "datum.p=='P9'"}], "mark": {"type": "line", "stroke": "#222222", "strokeWidth": 1, "strokeDash": [5, 2, 1, 2]}},
        {"data": {"name": "ell"}, "transform": [{"filter": "datum.p=='P9'"}], "mark": {"type": "point", "filled": false, "stroke": "#ee1c24", "strokeWidth": 1.5, "opacity": 1, "clip": true},
         "encoding": {
           "size": {"field": "sx", "type": "quantitative", "scale": {"type": "pow", "exponent": 2, "domain": [0, 0.01], "range": [0, 73984]}, "legend": null},
           "shape": {"field": "id", "type": "nominal", "legend": null, "scale": {"domain": ["i1","i2","i3","i4","i5","i6","i7","i8","i9","i10","i11","i12","i13","i14","i15","i16","i17","i18"], "range": ["M-1,0A1,2.73 0 1,0 1,0A1,2.73 0 1,0 -1,0Z","M-1,0A1,1.6 0 1,0 1,0A1,1.6 0 1,0 -1,0Z","M-1,0A1,3.71 0 1,0 1,0A1,3.71 0 1,0 -1,0Z","M-1,0A1,1.65 0 1,0 1,0A1,1.65 0 1,0 -1,0Z","M-1,0A1,2.67 0 1,0 1,0A1,2.67 0 1,0 -1,0Z","M-1,0A1,3.26 0 1,0 1,0A1,3.26 0 1,0 -1,0Z","M-1,0A1,2.31 0 1,0 1,0A1,2.31 0 1,0 -1,0Z","M-1,0A1,2.17 0 1,0 1,0A1,2.17 0 1,0 -1,0Z","M-1,0A1,3.13 0 1,0 1,0A1,3.13 0 1,0 -1,0Z","M-1,0A1,0.79 0 1,0 1,0A1,0.79 0 1,0 -1,0Z","M-1,0A1,1.42 0 1,0 1,0A1,1.42 0 1,0 -1,0Z","M-1,0A1,3.05 0 1,0 1,0A1,3.05 0 1,0 -1,0Z","M-1,0A1,1.36 0 1,0 1,0A1,1.36 0 1,0 -1,0Z","M-1,0A1,0.67 0 1,0 1,0A1,0.67 0 1,0 -1,0Z","M-1,0A1,0.79 0 1,0 1,0A1,0.79 0 1,0 -1,0Z","M-1,0A1,0.6 0 1,0 1,0A1,0.6 0 1,0 -1,0Z","M-1,0A1,0.91 0 1,0 1,0A1,0.91 0 1,0 -1,0Z","M-1,0A1,0.9 0 1,0 1,0A1,0.9 0 1,0 -1,0Z"]}}
         }}
      ]
    },
    {
      "title": {"text": "NLBT-006(2)"},
      "width": 340, "height": 306,
      "encoding": {
        "x": {"field": "x", "type": "quantitative", "scale": {"domain": [0, 0.025], "nice": false, "zero": false}, "axis": {"values": [0, 0.0025, 0.005, 0.0075, 0.01, 0.0125, 0.015, 0.0175, 0.02, 0.0225, 0.025], "labelExpr": "round(datum.value*400)%2==0 ? (datum.value==0 ? '0' : format(datum.value, '.3f')) : ''", "title": "³⁹Ar/⁴⁰Ar"}},
        "y": {"field": "y", "type": "quantitative", "scale": {"domain": [-0.0005, 0.0045], "nice": false, "zero": false}, "axis": {"values": [-0.0005, -0.00025, 0, 0.00025, 0.0005, 0.00075, 0.001, 0.00125, 0.0015, 0.00175, 0.002, 0.00225, 0.0025, 0.00275, 0.003, 0.00325, 0.0035, 0.00375, 0.004, 0.00425, 0.0045], "labelExpr": "round(datum.value*4000)%2==0 ? (datum.value==0 ? '0' : (datum.value<0 ? '-' : '') + format(abs(datum.value), '.4f')) : ''", "title": "³⁶Ar/⁴⁰Ar"}}
      },
      "layer": [
        {"data": {"name": "lines"}, "transform": [{"filter": "datum.p=='P10'"}], "mark": {"type": "line", "stroke": "#222222", "strokeWidth": 1, "strokeDash": [5, 2, 1, 2]}},
        {"data": {"name": "zero"}, "mark": {"type": "rule", "stroke": "#333333", "strokeWidth": 1.2}, "encoding": {"x2": {"field": "x2"}}},
        {"data": {"name": "ell"}, "transform": [{"filter": "datum.p=='P10'"}], "mark": {"type": "point", "filled": false, "stroke": "#ee1c24", "strokeWidth": 1.5, "opacity": 1, "clip": true},
         "encoding": {
           "size": {"field": "sx", "type": "quantitative", "scale": {"type": "pow", "exponent": 2, "domain": [0, 0.01], "range": [0, 73984]}, "legend": null},
           "shape": {"field": "id", "type": "nominal", "legend": null, "scale": {"domain": ["j1","j2","j3","j4","j5","j6","j7","j8","j9","j10","j11","j12"], "range": ["M-1,0A1,1.73 0 1,0 1,0A1,1.73 0 1,0 -1,0Z","M-1,0A1,1.63 0 1,0 1,0A1,1.63 0 1,0 -1,0Z","M-1,0A1,1.95 0 1,0 1,0A1,1.95 0 1,0 -1,0Z","M-1,0A1,1.18 0 1,0 1,0A1,1.18 0 1,0 -1,0Z","M-1,0A1,1.79 0 1,0 1,0A1,1.79 0 1,0 -1,0Z","M-1,0A1,1.15 0 1,0 1,0A1,1.15 0 1,0 -1,0Z","M-1,0A1,0.96 0 1,0 1,0A1,0.96 0 1,0 -1,0Z","M-1,0A1,0.97 0 1,0 1,0A1,0.97 0 1,0 -1,0Z","M-1,0A1,1.09 0 1,0 1,0A1,1.09 0 1,0 -1,0Z","M-1,0A1,0.8 0 1,0 1,0A1,0.8 0 1,0 -1,0Z","M-1,0A1,0.79 0 1,0 1,0A1,0.79 0 1,0 -1,0Z","M-1,0A1,0.91 0 1,0 1,0A1,0.91 0 1,0 -1,0Z"]}}
         }}
      ]
    }
  ]
}
